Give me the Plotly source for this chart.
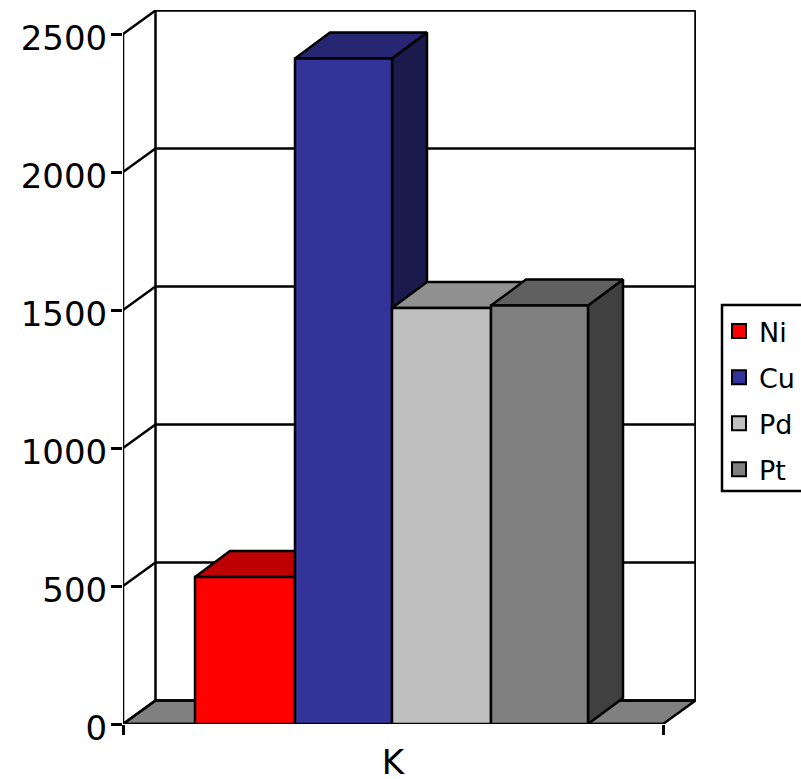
import plotly.graph_objects as go

series = ["Ni", "Cu", "Pd", "Pt"]
values = [533, 2411, 1507, 1516]
category = "K"
y_ticks = [0, 500, 1000, 1500, 2000, 2500]
front = ["#FF0000", "#333399", "#C0C0C0", "#808080"]
top = ["#BF0000", "#262673", "#909090", "#606060"]
side = ["#800000", "#1A1A4D", "#606060", "#404040"]

W, H = 801, 779
LEFT, RIGHT, TOP, BOTTOM = 123, 696, 10, 724
PX_X = 540.0      # pixels per x unit
PX_Y = 0.276      # pixels per y unit
WALL_X, WALL_Y = 32.5 / PX_X, 23.5 / PX_Y
DEPTH_X, DEPTH_Y = 35.0 / PX_X, 26.0 / PX_Y
BAR_EDGES = [72 / PX_X, 172 / PX_X, 269 / PX_X, 368 / PX_X, 465 / PX_X]
Y_MAX = (BOTTOM - TOP) / PX_Y
X_MAX = (RIGHT - LEFT) / PX_X
LINE = dict(color="black", width=2.5)

fig = go.Figure()


def poly(xs, ys, fill=None):
    fig.add_trace(go.Scatter(
        x=xs, y=ys, mode="lines", line=LINE, cliponaxis=False, showlegend=False,
        hoverinfo="skip", fill="toself" if fill else None, fillcolor=fill))


# floor
poly([0, 1, 1 + WALL_X, WALL_X, 0], [0, 0, WALL_Y, WALL_Y, 0], "#808080")
# axis lines and walls
poly([0, 0], [0, y_ticks[-1]])
poly([WALL_X, WALL_X], [WALL_Y, y_ticks[-1] + WALL_Y])
poly([1 + WALL_X, 1 + WALL_X], [WALL_Y, y_ticks[-1] + WALL_Y])
# gridlines
for t in y_ticks:
    poly([0, WALL_X, 1 + WALL_X], [t, t + WALL_Y, t + WALL_Y])
poly([0, 1], [0, 0])

# bars
for i, v in enumerate(values):
    x0, x1 = BAR_EDGES[i], BAR_EDGES[i + 1]
    poly([x1, x1 + DEPTH_X, x1 + DEPTH_X, x1, x1],
         [0, DEPTH_Y, v + DEPTH_Y, v, 0], side[i])
    poly([x0, x0 + DEPTH_X, x1 + DEPTH_X, x1, x0],
         [v, v + DEPTH_Y, v + DEPTH_Y, v, v], top[i])
    poly([x0, x1, x1, x0, x0], [0, 0, v, v, 0], front[i])

# legend entries
for i, s in enumerate(series):
    fig.add_trace(go.Scatter(
        x=[None], y=[None], mode="markers", name=s, legendgroup=s,
        marker=dict(symbol="square", size=14, color=front[i],
                    line=dict(color="black", width=2))))

plot_w, plot_h = RIGHT - LEFT, BOTTOM - TOP
fig.add_shape(type="rect", xref="paper", yref="paper", layer="below",
              x0=(722 - LEFT) / plot_w, x1=(830 - LEFT) / plot_w,
              y0=(BOTTOM - 491) / plot_h, y1=(BOTTOM - 305) / plot_h,
              fillcolor="white", line=dict(color="black", width=2.5))

fig.update_layout(
    width=W, height=H, autosize=False,
    margin=dict(l=LEFT, r=W - RIGHT, t=TOP, b=H - BOTTOM, autoexpand=False),
    paper_bgcolor="white", plot_bgcolor="rgba(0,0,0,0)",
    font=dict(family="DejaVu Sans", color="black"),
    xaxis=dict(range=[0, X_MAX], tickvals=[0.5], ticktext=[category], ticks="",
               showgrid=False, zeroline=False, showline=False,
               tickfont=dict(size=34), ticklabelstandoff=15,
               minor=dict(tickvals=[0, 1], ticks="outside", ticklen=10,
                          tickwidth=2.5, tickcolor="black", showgrid=False)),
    yaxis=dict(range=[0, Y_MAX], tickvals=y_ticks, ticks="outside", ticklen=11,
               tickwidth=2.5, tickcolor="black", showgrid=False, zeroline=False,
               showline=False, tickfont=dict(size=34), ticklabelshift=4,
               ticklabelstandoff=-3),
    legend=dict(x=(719 - LEFT) / plot_w, y=(BOTTOM - 307) / plot_h,
                xanchor="left", yanchor="top", bgcolor="rgba(0,0,0,0)",
                borderwidth=0, font=dict(size=27),
                traceorder="grouped", tracegroupgap=8, itemclick=False),
)
fig.write_html("out.html", config={"displayModeBar": False},
               post_script="document.body.style.margin='0';")
